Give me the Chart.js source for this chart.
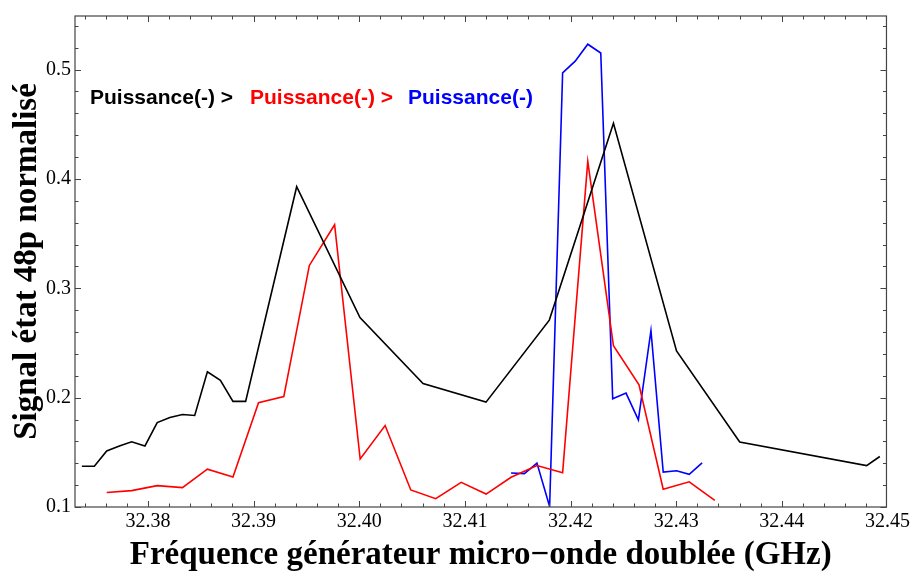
<!DOCTYPE html>
<html>
<head>
<meta charset="utf-8">
<script src="https://cdn.jsdelivr.net/npm/chart.js@4.4.1/dist/chart.umd.min.js"></script>
<style>
  html, body { margin: 0; padding: 0; background: #fff; overflow: hidden; }
  canvas { display: block; }
</style>
</head>
<body>
<canvas id="c" width="913" height="577"></canvas>
<script>
// Measured 48p signal versus doubled microwave frequency, three power settings
const blackFreq = [32.37375, 32.37493, 32.3761, 32.3773, 32.37846, 32.37972, 32.38088, 32.38208,
  32.38327, 32.38443, 32.38563, 32.38686, 32.38805, 32.38925, 32.39408, 32.40007, 32.40604,
  32.41200, 32.41799, 32.42406, 32.43003, 32.43601, 32.44802, 32.44927];
const blackSignal = [0.1373, 0.1373, 0.1513, 0.1558, 0.1596, 0.1558, 0.1772, 0.1819,
  0.1846, 0.1837, 0.2236, 0.2158, 0.1966, 0.1966, 0.3929, 0.2733, 0.2129,
  0.1959, 0.2709, 0.4509, 0.2428, 0.1594, 0.1379, 0.1462];

const redFreq = [32.3761, 32.37846, 32.38088, 32.38327, 32.38563, 32.38805, 32.39047, 32.39286,
  32.39528, 32.39767, 32.40009, 32.40245, 32.40488, 32.40724, 32.40965, 32.41201, 32.41437,
  32.41682, 32.41925, 32.42163, 32.42406, 32.42648, 32.42877, 32.43123, 32.43365];
const redSignal = [0.1132, 0.1150, 0.1195, 0.1177, 0.1346, 0.1275, 0.1953, 0.2010,
  0.3209, 0.3581, 0.1439, 0.1745, 0.1156, 0.1076, 0.1225, 0.1118, 0.1272,
  0.1379, 0.1314, 0.4161, 0.2474, 0.2117, 0.1162, 0.1230, 0.1061];

const blueFreq = [32.41437, 32.41563, 32.41682, 32.41802, 32.41925, 32.42044, 32.42163, 32.42286,
  32.42399, 32.42525, 32.42642, 32.42761, 32.42877, 32.43003, 32.43123, 32.43245];
const blueSignal = [0.1311, 0.1305, 0.1402, 0.1004, 0.4970, 0.5077, 0.5232, 0.5152,
  0.1989, 0.2042, 0.1796, 0.2614, 0.1320, 0.1332, 0.1299, 0.1403];

const xTickValues = [32.38, 32.39, 32.40, 32.41, 32.42, 32.43, 32.44, 32.45];
const yTickValues = [0.1, 0.2, 0.3, 0.4, 0.5];

const legendLabels = ['Puissance(-) >', 'Puissance(-) >', 'Puissance(-)'];
const seriesColors = ['#000000', '#ff0000', '#0000ff'];
const xTitle = 'Fréquence générateur micro\u2212onde doublée (GHz)';
const yTitle = 'Signal état 48p normalisé';

const toPoints = (xs, ys) => xs.map((x, i) => ({ x: x, y: ys[i] }));

// Frame around the plot with inward major/minor ticks on all four sides
const frameTicks = {
  id: 'frameTicks',
  afterDatasetsDraw(chart) {
    const { ctx, chartArea: a, scales: { x, y } } = chart;
    ctx.save();
    ctx.strokeStyle = '#444';
    ctx.lineWidth = 1.2;
    ctx.strokeRect(a.left, a.top, a.right - a.left, a.bottom - a.top);
    ctx.lineWidth = 1;
    const major = 6, minor = 3.5;
    // x: minor step 0.002, major every 0.01
    const kx0 = Math.ceil(x.min / 0.002 - 1e-6), kx1 = Math.floor(x.max / 0.002 + 1e-6);
    for (let k = kx0; k <= kx1; k++) {
      const px = Math.round(x.getPixelForValue(k * 0.002)) + 0.5;
      const len = (k % 5 === 0) ? major : minor;
      ctx.beginPath();
      ctx.moveTo(px, a.bottom); ctx.lineTo(px, a.bottom - len);
      ctx.moveTo(px, a.top); ctx.lineTo(px, a.top + len);
      ctx.stroke();
    }
    // y: minor step 0.02, major every 0.1
    const ky0 = Math.ceil(y.min / 0.02 - 1e-6), ky1 = Math.floor(y.max / 0.02 + 1e-6);
    for (let k = ky0; k <= ky1; k++) {
      const py = Math.round(y.getPixelForValue(k * 0.02)) + 0.5;
      const len = (k % 5 === 0) ? major : minor;
      ctx.beginPath();
      ctx.moveTo(a.left, py); ctx.lineTo(a.left + len, py);
      ctx.moveTo(a.right, py); ctx.lineTo(a.right - len, py);
      ctx.stroke();
    }
    ctx.restore();
  }
};

// Coloured series captions written in a row inside the plot
const seriesCaptions = {
  id: 'seriesCaptions',
  afterDraw(chart) {
    const { ctx } = chart;
    const xs = [90, 250, 408];
    ctx.save();
    ctx.font = 'bold 21px "Liberation Sans", Arial, sans-serif';
    ctx.textBaseline = 'alphabetic';
    ctx.textAlign = 'left';
    legendLabels.forEach((t, i) => {
      ctx.fillStyle = seriesColors[i];
      ctx.fillText(t, xs[i], 104);
    });
    ctx.restore();
  }
};

const lineStyle = (color) => ({
  borderColor: color,
  backgroundColor: color,
  borderWidth: 1.6,
  pointRadius: 0,
  tension: 0,
  fill: false
});

new Chart(document.getElementById('c'), {
  type: 'line',
  data: {
    datasets: [
      Object.assign({ label: legendLabels[0], data: toPoints(blackFreq, blackSignal) }, lineStyle(seriesColors[0])),
      Object.assign({ label: legendLabels[1], data: toPoints(redFreq, redSignal) }, lineStyle(seriesColors[1])),
      Object.assign({ label: legendLabels[2], data: toPoints(blueFreq, blueSignal) }, lineStyle(seriesColors[2]))
    ]
  },
  options: {
    responsive: false,
    devicePixelRatio: 1,
    animation: false,
    layout: { padding: { left: 0, top: 4, right: 24, bottom: 0 } },
    plugins: { legend: { display: false }, tooltip: { enabled: false } },
    scales: {
      x: {
        type: 'linear',
        min: 32.3731,
        max: 32.4499,
        afterFit(s) { s.height = 70; },
        afterBuildTicks(s) { s.ticks = xTickValues.map(v => ({ value: v })); },
        grid: { display: false, drawTicks: false },
        border: { display: false },
        ticks: {
          color: '#000',
          padding: 3,
          maxRotation: 0,
          autoSkip: false,
          font: { family: '"Liberation Serif", "Times New Roman", serif', size: 20 },
          callback: v => v.toFixed(2)
        },
        title: {
          display: true,
          text: xTitle,
          color: '#000',
          padding: { top: 0, bottom: 2 },
          font: { family: '"Liberation Serif", "Times New Roman", serif', size: 33, weight: 'bold' }
        }
      },
      y: {
        type: 'linear',
        min: 0.1,
        max: 0.549,
        afterFit(s) { s.width = 75; },
        afterBuildTicks(s) { s.ticks = yTickValues.map(v => ({ value: v })); },
        grid: { display: false, drawTicks: false },
        border: { display: false },
        ticks: {
          color: '#000',
          padding: 4,
          font: { family: '"Liberation Serif", "Times New Roman", serif', size: 20 },
          callback: v => v.toFixed(1)
        },
        title: {
          display: true,
          text: yTitle,
          color: '#000',
          padding: { top: 8, bottom: 0 },
          font: { family: '"Liberation Serif", "Times New Roman", serif', size: 33, weight: 'bold' }
        }
      }
    }
  },
  plugins: [frameTicks, seriesCaptions]
});
</script>
</body>
</html>
